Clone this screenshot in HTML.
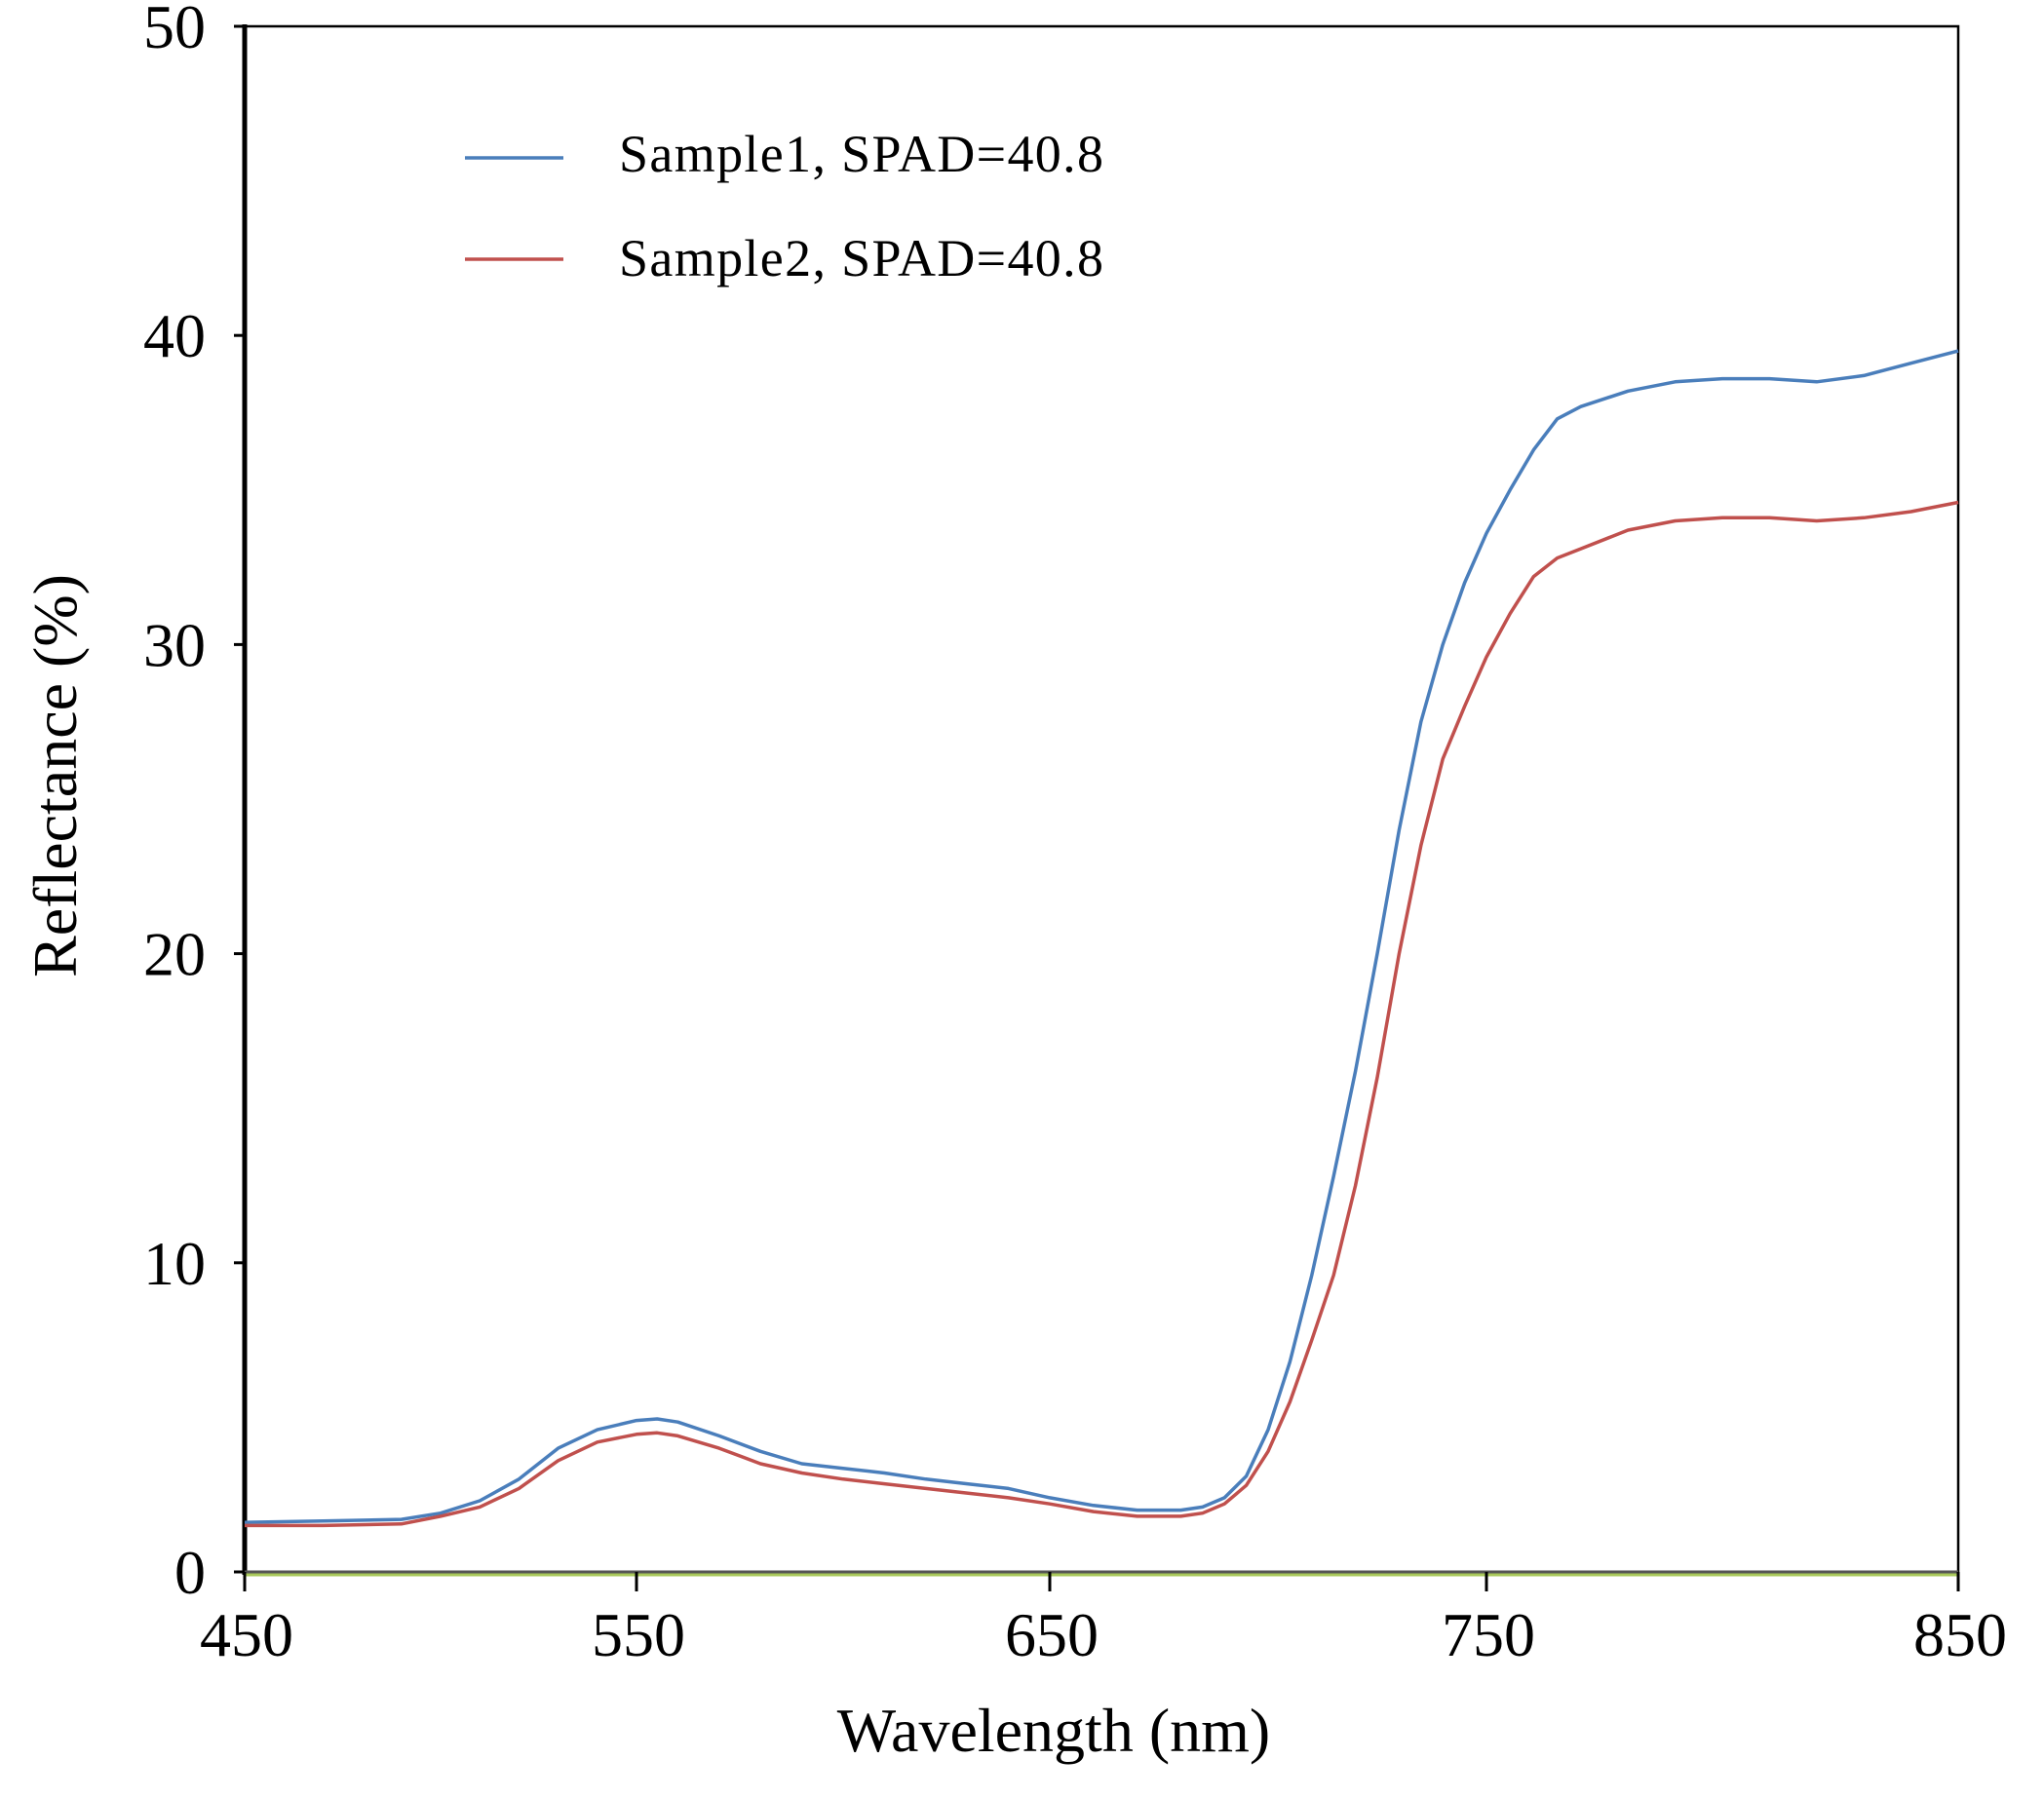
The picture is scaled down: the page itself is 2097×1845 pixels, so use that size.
<!DOCTYPE html>
<html><head><meta charset="utf-8"><style>
html,body{margin:0;padding:0;background:#fff;}
svg{display:block;font-family:"Liberation Serif",serif;}
</style></head><body>
<svg id="chart" width="2097" height="1845" viewBox="0 0 2097 1845">
<g id="axes"></g><g id="series"></g>
<g>
<line x1="477" y1="162" x2="578" y2="162" stroke="#4a7ebb" stroke-width="3.5"/>
<text x="635" y="176" font-size="54" textLength="497">Sample1,  SPAD=40.8</text>
<line x1="477" y1="266" x2="578" y2="266" stroke="#c0504d" stroke-width="3.5"/>
<text x="635" y="283" font-size="54" textLength="497">Sample2,  SPAD=40.8</text>
</g>
<text x="1081" y="1797" font-size="64" text-anchor="middle">Wavelength (nm)</text>
<text transform="translate(78,796) rotate(-90)" font-size="64" text-anchor="middle">Reflectance (%)</text>
</svg>
<script>
const xTicks=[450,550,650,750,850];
const yTicks=[0,10,20,30,40,50];
const wavelengths=[450,470,490,500,510,520,530,540,550,555,560,570,580,590,600,610,620,630,640,650,660,670,680,685,690,695,700,705,710,715,720,725,730,735,740,745,750,755,760,765,770,780,790,800,810,820,830,840,850];
const sample1=[1.6,1.65,1.7,1.9,2.3,3.0,4.0,4.6,4.9,4.95,4.85,4.4,3.9,3.5,3.35,3.2,3.0,2.85,2.7,2.4,2.15,2.0,2.0,2.1,2.4,3.1,4.6,6.8,9.6,12.8,16.2,20.0,24.0,27.5,30.0,32.0,33.6,35.0,36.3,37.3,37.7,38.2,38.5,38.6,38.6,38.5,38.7,39.1,39.5];
const sample2=[1.5,1.5,1.55,1.8,2.1,2.7,3.6,4.2,4.45,4.5,4.4,4.0,3.5,3.2,3.0,2.85,2.7,2.55,2.4,2.2,1.95,1.8,1.8,1.9,2.2,2.8,3.9,5.5,7.5,9.6,12.5,16.0,20.0,23.5,26.3,28.0,29.6,31.0,32.2,32.8,33.1,33.7,34.0,34.1,34.1,34.0,34.1,34.3,34.6];
const tickPx=[251,653,1077,1525,2009];
const NS="http://www.w3.org/2000/svg";
function xs(w){for(let i=0;i<xTicks.length-1;i++){if(w<=xTicks[i+1]||i===xTicks.length-2){const t=(w-xTicks[i])/(xTicks[i+1]-xTicks[i]);return tickPx[i]+t*(tickPx[i+1]-tickPx[i]);}}}
function ys(v){return 1613-(v/50)*(1613-27);}
function mk(tag,attrs,parent){const e=document.createElementNS(NS,tag);for(const k in attrs)e.setAttribute(k,attrs[k]);parent.appendChild(e);return e;}
const ax=document.getElementById('axes');
const frame=mk('rect',{x:251,y:27,width:2009-251,height:1613-27,fill:'none',stroke:'#000','stroke-width':2.5},ax);


const yl=mk('line',{x1:251,y1:25,x2:251,y2:1616,stroke:'#000','stroke-width':5},ax);


const g0=mk('line',{x1:251,y1:1616,x2:2009,y2:1616,stroke:'#a8c85a','stroke-width':3},ax);


const xl=mk('line',{x1:251,y1:1613,x2:2009,y2:1613,stroke:'#555','stroke-width':3},ax);


yTicks.forEach(v=>{const y=ys(v);
 const t=mk('line',{x1:240,y1:y,x2:251,y2:y,stroke:'#000','stroke-width':3},ax);
 
 
 const l=mk('text',{x:211,y:y+22,'font-size':64,'text-anchor':'end'},ax);l.textContent=v;
 
 });
xTicks.forEach(w=>{const x=xs(w);
 const t=mk('line',{x1:x,y1:1613,x2:x,y2:1633,stroke:'#000','stroke-width':3},ax);
 
 
 const l=mk('text',{x:x+2,y:1699,'font-size':64,'text-anchor':'middle'},ax);l.textContent=w;
 
 });
const sg=document.getElementById('series');
[[sample1,'#4a7ebb','sample1-line'],[sample2,'#c0504d','sample2-line']].forEach(s=>{
 const pts=wavelengths.map((w,i)=>xs(w).toFixed(1)+','+ys(s[0][i]).toFixed(1)).join(' ');
 const p=mk('polyline',{points:pts,fill:'none',stroke:s[1],'stroke-width':3.5,'stroke-linejoin':'round'},sg);
 
 });
</script>
</body></html>
